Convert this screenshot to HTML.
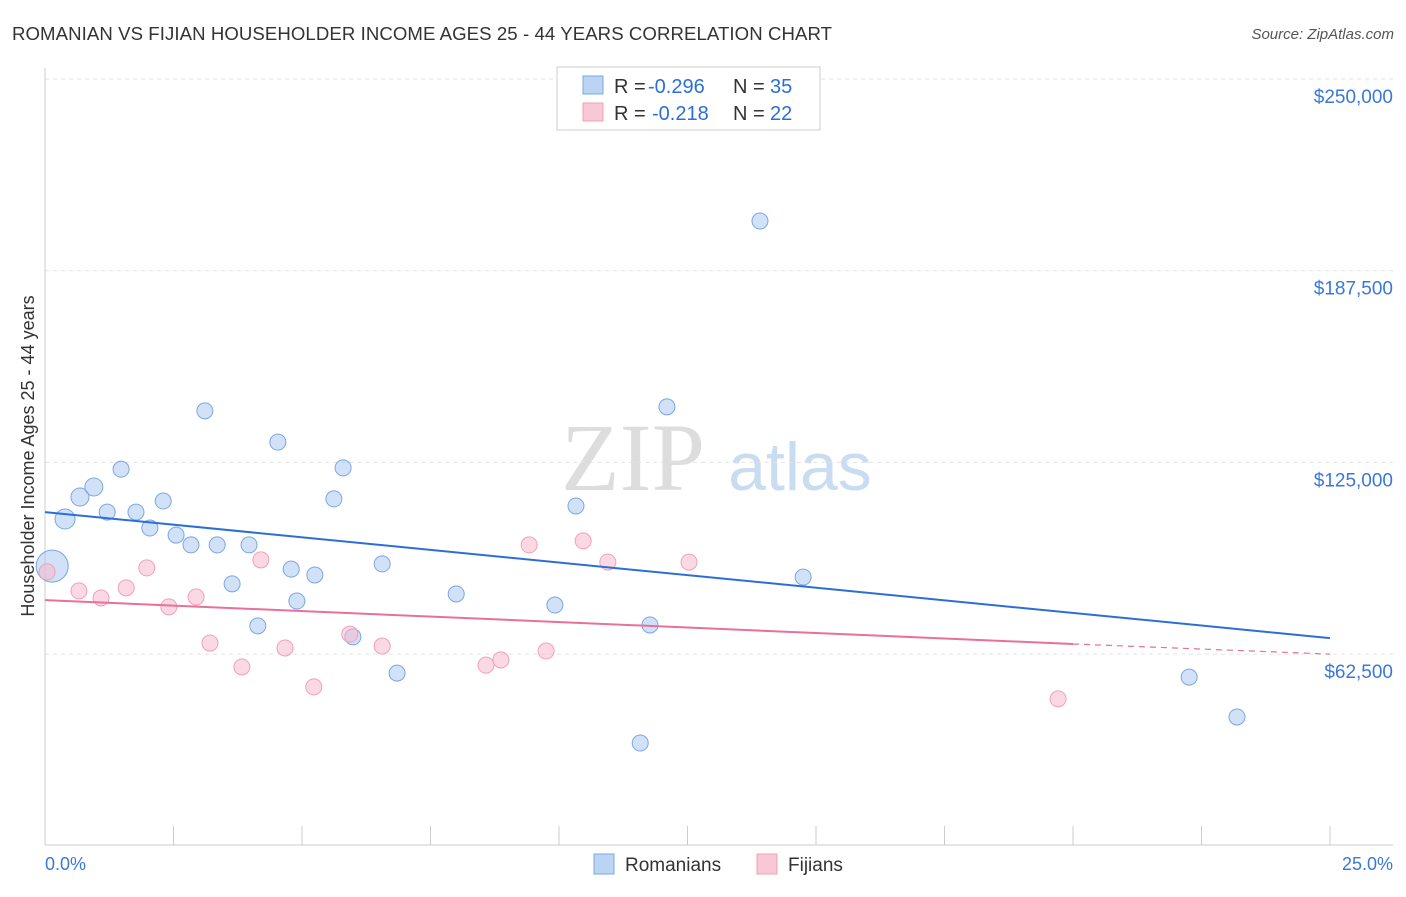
<!DOCTYPE html>
<html><head><meta charset="utf-8"><style>
body{margin:0;background:#fff;font-family:"Liberation Sans",sans-serif}
</style></head><body>
<svg width="1406" height="892" xmlns="http://www.w3.org/2000/svg" id="chart">
<text x="12" y="40" font-size="18.6" fill="#333" textLength="820">ROMANIAN VS FIJIAN HOUSEHOLDER INCOME AGES 25 - 44 YEARS CORRELATION CHART</text>
<text x="1394" y="39" font-size="15" fill="#555" font-style="italic" text-anchor="end">Source: ZipAtlas.com</text>
<text x="633" y="490" font-size="96" fill="#ddd" font-family="Liberation Serif,serif" text-anchor="middle">ZIP</text>
<text x="800" y="490" font-size="68" fill="#c8dcf2" text-anchor="middle">atlas</text>
<g id="grid"></g><g id="axes"></g><g id="marks"></g>
<text transform="translate(34,456) rotate(-90)" font-size="18" fill="#333" text-anchor="middle">Householder Income Ages 25 - 44 years</text>
<text x="45" y="870" font-size="18" fill="#3a78d8">0.0%</text>
<text x="1393" y="870" font-size="18" fill="#3a78d8" text-anchor="end">25.0%</text>
<g>
<rect x="557" y="67" width="263" height="63" fill="#fff" stroke="#ccc"/>
<rect x="583" y="76" width="20" height="18" fill="#bcd4f4" stroke="#7aa7e0"/>
<rect x="583" y="103" width="20" height="18" fill="#f8c8d6" stroke="#f0a0b8"/>
<text x="614" y="93" font-size="20" fill="#333">R = <tspan x="648" fill="#2b6fd6">-0.296</tspan><tspan x="733">N = </tspan><tspan x="770" fill="#2b6fd6">35</tspan></text>
<text x="614" y="120" font-size="20" fill="#333">R = <tspan x="652" fill="#2b6fd6">-0.218</tspan><tspan x="733">N = </tspan><tspan x="770" fill="#2b6fd6">22</tspan></text>
</g>
<g>
<rect x="594" y="854" width="20" height="20" fill="#bcd4f4" stroke="#7aa7e0"/>
<text x="625" y="871" font-size="19" fill="#333">Romanians</text>
<rect x="757" y="854" width="20" height="20" fill="#f8c8d6" stroke="#f0a0b8"/>
<text x="788" y="871" font-size="19" fill="#333">Fijians</text>
</g>
</svg>
<script>
const yTicks=[250000,187500,125000,62500];
const yTickLabels=["$250,000","$187,500","$125,000","$62,500"];
const xTicks=[0,2.5,5,7.5,10,12.5,15,17.5,20,22.5,25];
const romX=[0.14,0.39,0.68,0.95,1.21,1.48,1.77,2.04,2.30,2.55,2.84,3.11,3.35,3.64,3.97,4.14,4.53,4.79,4.90,5.25,5.62,5.80,5.99,6.56,6.85,8.00,9.92,10.33,11.58,11.77,12.10,13.91,14.75,22.26,23.19];
const romY=[91200,106550,113700,117000,108800,122800,108800,103600,112400,101300,98100,141800,98100,85400,98100,71700,131600,90200,79800,88300,113100,123200,68100,91900,56300,82100,78500,110800,33500,72000,143100,203700,87600,55000,42000];
const romR=[16,10,9,9,8,8,8,8,8,8,8,8,8,8,8,8,8,8,8,8,8,8,8,8,8,8,8,8,8,8,8,8,8,8,8];
const fijX=[0.04,0.66,1.09,1.58,1.98,2.41,2.94,3.21,3.83,4.20,4.67,5.23,5.93,6.56,8.58,8.87,9.42,9.75,10.47,10.95,12.53,19.71];
const fijY=[89300,83100,80800,84100,90600,77900,81100,66100,58300,93200,64500,51800,69000,65100,58900,60600,98100,63500,99400,92500,92500,47900];
const romTrendX=[0,25];const romTrendY=[108800,67700];
const fijTrendX=[0,20,25];const fijTrendY=[80100,65800,62500];
const xs=v=>45+v/25*1285;
const ys=v=>79+(250000-v)/62500*191.7;
const NS="http://www.w3.org/2000/svg";
function mk(t,a,p){const e=document.createElementNS(NS,t);for(const k in a)e.setAttribute(k,a[k]);p.appendChild(e);return e;}
const grid=document.getElementById('grid'),axes=document.getElementById('axes'),marks=document.getElementById('marks');
yTicks.forEach((v,i)=>{
 const l=mk('line',{x1:45,x2:1393,y1:ys(v),y2:ys(v),stroke:'#e2e2e2','stroke-dasharray':'4,4'},grid);
 
 
 const t=mk('text',{x:1393,y:ys(v)+24,'font-size':19,fill:'#3a78d8','text-anchor':'end'},grid);
 t.textContent=yTickLabels[i];
 
 
});
const ax=mk('line',{x1:45,x2:1393,y1:845,y2:845,stroke:'#ccc'},axes);


const ay=mk('line',{x1:45,x2:45,y1:68,y2:845,stroke:'#ccc'},axes);


xTicks.forEach(v=>{
 const t=mk('line',{x1:xs(v),x2:xs(v),y1:826,y2:845,stroke:'#ccc'},axes);
 
 
});
romX.forEach((x,i)=>{
 const c=mk('circle',{cx:xs(x),cy:ys(romY[i]),r:romR[i],fill:'rgba(170,200,242,0.55)',stroke:'#7aa7e0','stroke-width':1},marks);
 
 
});
fijX.forEach((x,i)=>{
 const c=mk('circle',{cx:xs(x),cy:ys(fijY[i]),r:8,fill:'rgba(248,185,205,0.55)',stroke:'#f0a0b8','stroke-width':1},marks);
 
 
});
const bl=mk('line',{x1:xs(romTrendX[0]),y1:ys(romTrendY[0]),x2:xs(romTrendX[1]),y2:ys(romTrendY[1]),stroke:'#2b6fd6','stroke-width':2},marks);


const pl=mk('line',{x1:xs(fijTrendX[0]),y1:ys(fijTrendY[0]),x2:xs(fijTrendX[1]),y2:ys(fijTrendY[1]),stroke:'#e8709a','stroke-width':2},marks);


const pd=mk('line',{x1:xs(fijTrendX[1]),y1:ys(fijTrendY[1]),x2:xs(fijTrendX[2]),y2:ys(fijTrendY[2]),stroke:'#e8709a','stroke-width':1.2,'stroke-dasharray':'6,5'},marks);


</script>
</body></html>
